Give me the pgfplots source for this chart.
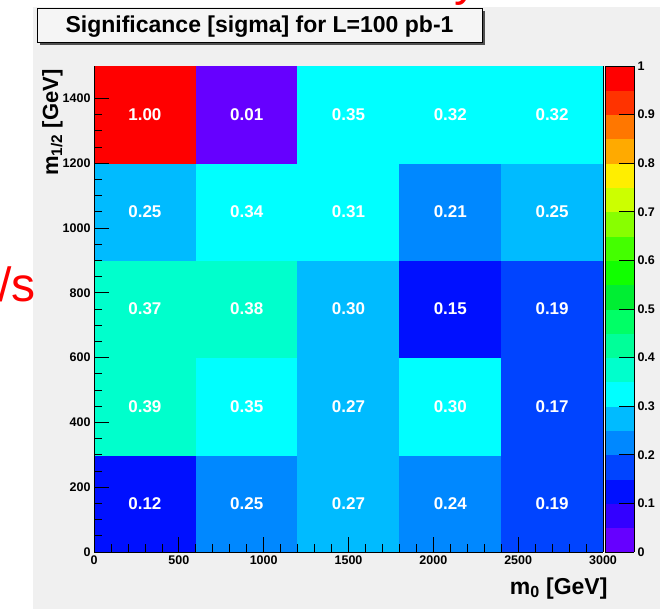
\documentclass[border=0pt]{standalone}
\usepackage{fontspec}
\setmainfont{Liberation Sans}
\usepackage{pgfplots}
\usepackage{pgfplotstable}
\pgfplotsset{compat=1.18}

\definecolor{canvasgray}{HTML}{F0F0F0}
\definecolor{titlefill}{HTML}{F5F5F5}
\definecolor{shadowgray}{HTML}{505050}

% significance per (m0, m1/2) bin; columns are bin centres
\pgfplotstableread{
m0   mhalf  sig
300  150    0.12
900  150    0.248
1500 150    0.27
2100 150    0.24
2700 150    0.19
300  450    0.39
900  450    0.349
1500 450    0.27
2100 450    0.302
2700 450    0.17
300  750    0.37
900  750    0.38
1500 750    0.298
2100 750    0.149
2700 750    0.19
300  1050   0.252
900  1050   0.34
1500 1050   0.31
2100 1050   0.21
2700 1050   0.252
300  1350   1.00
900  1350   0.01
1500 1350   0.349
2100 1350   0.32
2700 1350   0.32
}\sigtable

\pgfplotsset{/pgf/number format/assume math mode=true}

\begin{document}
\begin{tikzpicture}[x=1pt,y=1pt]
\useasboundingbox (0,0) rectangle (660,609);
\clip (0,0) rectangle (660,609);
\fill[white] (0,0) rectangle (660,609);
\fill[canvasgray] (33,0) rectangle (660,602);

% slide text around the canvas
\node[anchor=base east, inner sep=0pt, text=red, font=\fontsize{48}{48}\selectfont] at (36,307) {/s};
\node[anchor=base west, inner sep=0pt, text=red, font=\fontsize{48}{48}\selectfont] at (454,613) {y};

\begin{axis}[
  at={(94pt,57pt)}, anchor=south west,
  width=509pt, height=486pt, scale only axis,
  xmin=0, xmax=3000, ymin=0, ymax=1500,
  enlargelimits=false,
  axis lines=left,
  axis line style={-, black, line width=0.8pt},
  axis on top,
  tick align=inside,
  tick style={black, line width=0.7pt},
  major tick length=15pt, minor tick length=8pt,
  xtick={0,500,1000,1500,2000,2500,3000}, minor x tick num=4,
  ytick={0,200,400,600,800,1000,1200,1400}, minor y tick num=3,
  /pgf/number format/1000 sep={},
  ticklabel style={font=\bfseries\fontsize{12.5}{12.5}\selectfont},
  xlabel={m\textsubscript{0} [GeV]},
  ylabel={m\textsubscript{1/2} [GeV]},
  xlabel style={font=\bfseries\fontsize{23}{23}\selectfont,
    at={(axis description cs:1,0)}, anchor=base east, xshift=8pt, yshift=-42pt},
  ylabel style={font=\bfseries\fontsize{22}{22}\selectfont,
    at={(axis description cs:-0.0707,1)}, anchor=base east},
  % 20 equal colour bands over [0,1]
  colormap={rootpal}{
    rgb255=(102,0,255) rgb255=(51,0,255) rgb255=(0,16,255) rgb255=(0,68,255)
    rgb255=(0,136,255) rgb255=(0,187,255) rgb255=(0,255,255) rgb255=(0,255,204)
    rgb255=(0,255,153) rgb255=(0,255,102) rgb255=(0,238,51) rgb255=(17,255,0)
    rgb255=(68,255,0) rgb255=(136,255,0) rgb255=(204,255,0) rgb255=(255,238,0)
    rgb255=(255,170,0) rgb255=(255,119,0) rgb255=(255,51,0) rgb255=(255,0,0)},
  colormap access=piecewise constant,
  point meta min=0, point meta max=1,
  colorbar,
  colorbar shift/.style={xshift=2pt},
  colorbar style={
    at={(parent axis.north east)}, anchor=north west,
    width=29pt,
    ytick={0,0.1,0.2,0.3,0.4,0.5,0.6,0.7,0.8,0.9,1},
    ytick pos=right, yticklabel pos=right,
    tick align=inside,
    major tick length=15pt,
    tick style={black, line width=0.7pt},
    axis line style={black, line width=0.8pt},
    yticklabel style={font=\bfseries\fontsize{12.5}{12.5}\selectfont},
  },
  extra description/.code={
    \draw[black, line width=0.8pt] (rel axis cs:1,0) -- (rel axis cs:1,1);
  },
]
\addplot[matrix plot*, mesh/cols=5, point meta=explicit]
  table[x=m0, y=mhalf, meta=sig] {\sigtable};
\addplot[draw=none, mark=none, point meta=explicit,
  nodes near coords={\pgfmathprintnumber[fixed,fixed zerofill,precision=2]{\pgfplotspointmeta}},
  nodes near coords align=center,
  every node near coord/.append style={font=\bfseries\fontsize{17}{17}\selectfont, text=white, anchor=center}]
  table[x=m0, y=mhalf, meta=sig] {\sigtable};
\end{axis}

% title box with drop shadow
\fill[shadowgray] (40,564) rectangle (485,598);
\draw[black, line width=0.8pt, fill=titlefill] (37,567) rectangle (482,601);
\node[anchor=base, inner sep=0pt, font=\bfseries\fontsize{23}{23}\selectfont] at (259.5,576) {Significance [sigma] for L=100 pb-1};
\end{tikzpicture}
\end{document}
